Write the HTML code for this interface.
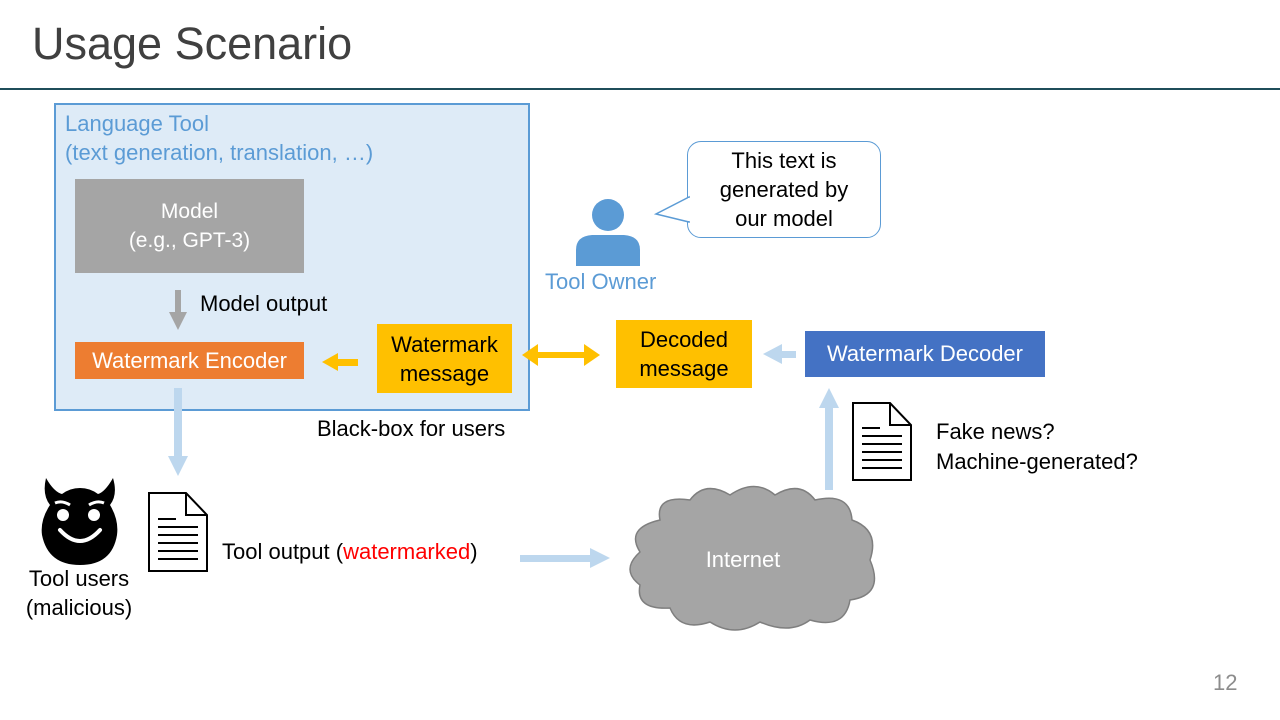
<!DOCTYPE html>
<html><head><style>
body{margin:0;width:1280px;height:720px;background:#fff;position:relative;overflow:hidden;font-family:"Segoe UI","Liberation Sans","DejaVu Sans",sans-serif;}
.a{position:absolute;white-space:nowrap;}
.box{position:absolute;display:flex;align-items:center;justify-content:center;text-align:center;}
</style></head><body>
<div class="a" style="left:32px;top:18px;font-size:45px;color:#404040;">Usage Scenario</div>
<div class="a" style="left:0;top:88px;width:1280px;height:2px;background:#1f4e5a;"></div>

<div class="a" style="left:54px;top:103px;width:472px;height:304px;background:#deebf7;border:2px solid #5b9bd5;"></div>
<div class="a" style="left:65px;top:109px;font-size:22px;color:#5b9bd5;line-height:29px;">Language Tool<br>(text generation, translation, …)</div>
<div class="box" style="left:75px;top:179px;width:229px;height:94px;background:#a5a5a5;color:#fff;font-size:21px;line-height:29px;">Model<br>(e.g., GPT-3)</div>
<div class="a" style="left:200px;top:291px;font-size:22px;color:#000;">Model output</div>
<div class="box" style="left:75px;top:342px;width:229px;height:37px;background:#ed7d31;color:#fff;font-size:22px;">Watermark Encoder</div>
<div class="box" style="left:377px;top:324px;width:135px;height:69px;background:#ffc000;color:#000;font-size:22px;line-height:29px;">Watermark<br>message</div>
<div class="a" style="left:317px;top:416px;font-size:22px;">Black-box for users</div>

<div class="box" style="left:616px;top:320px;width:136px;height:68px;background:#ffc000;color:#000;font-size:22px;line-height:29px;">Decoded<br>message</div>
<div class="box" style="left:805px;top:331px;width:240px;height:46px;background:#4472c4;color:#fff;font-size:22px;">Watermark Decoder</div>

<div class="a" style="left:545px;top:269px;font-size:22px;color:#5b9bd5;">Tool Owner</div>
<div class="box" style="left:687px;top:141px;width:192px;height:95px;border:1.5px solid #5b9bd5;border-radius:14px;font-size:22px;line-height:29px;background:#fff;">This text is<br>generated by<br>our model</div>

<div class="a" style="left:936px;top:417px;font-size:22px;line-height:30px;">Fake news?<br>Machine-generated?</div>
<div class="a" style="left:222px;top:539px;font-size:22px;">Tool output (<span style="color:#ff0000">watermarked</span>)</div>
<div class="a" style="left:18px;top:564px;font-size:22px;line-height:29px;text-align:center;width:122px;">Tool users<br>(malicious)</div>
<div class="a" style="left:1213px;top:670px;font-size:22px;color:#8c8c8c;">12</div>

<svg class="a" style="left:0;top:0" width="1280" height="720">
<polygon points="689,197 656,214 689,222" fill="#fff" stroke="#5b9bd5" stroke-width="1.5"/>
<line x1="689" y1="198" x2="689" y2="221" stroke="#fff" stroke-width="2"/>
<circle cx="608" cy="215" r="16" fill="#5b9bd5"/>
<path d="M576,266 L576,250 Q576,236 592,235 L624,235 Q640,236 640,250 L640,266 Z" fill="#5b9bd5"/>
<rect x="175" y="290" width="6" height="24" fill="#a5a5a5"/><polygon points="169,312 187,312 178,330" fill="#a5a5a5"/>
<rect x="336" y="359" width="22" height="7" fill="#ffc000"/><polygon points="338,353 338,371 322,362" fill="#ffc000"/>
<rect x="536" y="352" width="50" height="6" fill="#ffc000"/>
<polygon points="538,344 538,366 522,355" fill="#ffc000"/><polygon points="584,344 584,366 600,355" fill="#ffc000"/>
<rect x="780" y="351" width="16" height="7" fill="#bdd7ee"/><polygon points="782,344 782,364 763,354" fill="#bdd7ee"/>
<rect x="174" y="388" width="8" height="70" fill="#bdd7ee"/><polygon points="168,456 188,456 178,476" fill="#bdd7ee"/>
<rect x="520" y="555" width="72" height="7" fill="#bdd7ee"/><polygon points="590,548 590,568 610,558" fill="#bdd7ee"/>
<rect x="825" y="405" width="8" height="85" fill="#bdd7ee"/><polygon points="819,408 839,408 829,388" fill="#bdd7ee"/>
<g fill="#fff" stroke="#000" stroke-width="2">
<path d="M149,493 L186,493 L207,515 L207,571 L149,571 Z"/><path d="M186,493 L186,515 L207,515" fill="none"/>
<path d="M853,403 L890,403 L911,425 L911,480 L853,480 Z"/><path d="M890,403 L890,425 L911,425" fill="none"/>
</g>
<g stroke="#000" stroke-width="2">
<line x1="158" y1="519" x2="176" y2="519"/><line x1="158" y1="527" x2="198" y2="527"/><line x1="158" y1="535" x2="198" y2="535"/><line x1="158" y1="543" x2="198" y2="543"/><line x1="158" y1="551" x2="198" y2="551"/><line x1="158" y1="559" x2="198" y2="559"/>
<line x1="862" y1="428" x2="880" y2="428"/><line x1="862" y1="436" x2="902" y2="436"/><line x1="862" y1="444" x2="902" y2="444"/><line x1="862" y1="452" x2="902" y2="452"/><line x1="862" y1="460" x2="902" y2="460"/><line x1="862" y1="468" x2="902" y2="468"/>
</g>
<path d="M46,478 Q42,495 50,505 Q40,520 42,535 Q48,565 80,565 Q112,565 117,535 Q119,520 110,505 Q118,495 113,478 Q105,492 98,494 Q90,488 80,488 Q70,488 62,494 Q54,492 46,478 Z" fill="#000"/>
<circle cx="63" cy="515" r="6" fill="#fff"/><circle cx="94" cy="515" r="6" fill="#fff"/>
<path d="M55,503 Q62,500 70,505 M89,505 Q97,500 104,503" stroke="#fff" stroke-width="3" fill="none"/>
<path d="M60,530 Q80,552 100,530" stroke="#fff" stroke-width="4" fill="none" stroke-linecap="round"/>
<path d="M660,520 Q655,495 690,500 Q705,480 730,495 Q755,478 775,495 Q800,480 815,500 Q850,492 852,520 Q880,530 870,560 Q885,595 850,600 Q845,630 810,620 Q790,635 760,622 Q735,638 710,622 Q680,632 670,608 Q635,610 640,585 Q620,570 640,552 Q625,528 660,520 Z" fill="#a5a5a5" stroke="#7f7f7f" stroke-width="1.5"/>
<text x="743" y="567" fill="#fff" font-size="22" text-anchor="middle" font-family="Segoe UI,Liberation Sans,sans-serif">Internet</text>
</svg>
</body></html>
